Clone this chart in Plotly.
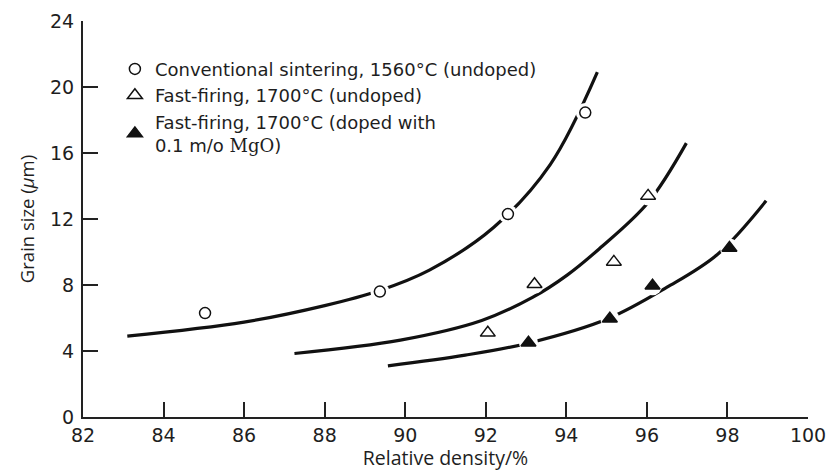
import plotly.graph_objects as go

# ---- data ----
conv_x = [85.03, 89.37, 92.55, 94.47]
conv_y = [6.3, 7.6, 12.3, 18.45]
fast_x = [92.05, 93.21, 95.18, 96.03]
fast_y = [5.1, 8.05, 9.4, 13.4]
dope_x = [93.06, 95.08, 96.14, 98.05]
dope_y = [4.5, 5.95, 7.95, 10.25]

curve1_x = [83.1, 86.0, 88.0, 89.35, 90.6, 92.2, 93.6, 94.77]
curve1_y = [4.9, 5.75, 6.75, 7.65, 8.9, 11.5, 15.3, 20.9]
curve2_x = [87.25, 89.88, 91.9, 93.16, 94.02, 94.82, 96.03, 96.98]
curve2_y = [3.85, 4.66, 5.85, 7.25, 8.6, 10.2, 13.0, 16.6]
curve3_x = [89.57, 91.49, 93.1, 95.03, 96.49, 97.75, 98.96]
curve3_y = [3.1, 3.75, 4.5, 5.95, 7.85, 9.85, 13.1]

x_ticks = [82, 84, 86, 88, 90, 92, 94, 96, 98, 100]
y_ticks = [0, 4, 8, 12, 16, 20, 24]

labels = [
    "Conventional sintering, 1560°C (undoped)",
    "Fast-firing, 1700°C (undoped)",
    "Fast-firing, 1700°C (doped with<br>0.1 m/o <span style=\"font-family:'DejaVu Serif'\">MgO</span>)",
]

INK = "#111111"
TXT = "#1e1e1e"
WIDE = "DejaVu Sans, Verdana, sans-serif"
HUM = "Open Sans, Noto Sans, sans-serif"

fig = go.Figure()

for cx, cy in [(curve1_x, curve1_y), (curve2_x, curve2_y), (curve3_x, curve3_y)]:
    fig.add_trace(go.Scatter(x=cx, y=cy, mode="lines",
                             line=dict(color=INK, width=3.2, shape="spline", smoothing=1.0),
                             showlegend=False, hoverinfo="skip"))

# white halos producing the gaps in the curves around the markers
for mx, my in [(conv_x, conv_y), (fast_x, fast_y), (dope_x, dope_y)]:
    fig.add_trace(go.Scatter(x=mx, y=my, mode="markers",
                             marker=dict(color="white", size=19, line=dict(width=0)),
                             showlegend=False, hoverinfo="skip"))

fig.add_trace(go.Scatter(x=conv_x, y=conv_y, mode="markers", name=labels[0],
                         marker=dict(symbol="circle", size=11, color="white",
                                     line=dict(color=INK, width=1.5))))
fig.add_trace(go.Scatter(x=fast_x, y=fast_y, mode="markers", name=labels[1],
                         marker=dict(symbol="triangle-up", size=13, color="white",
                                     line=dict(color=INK, width=1.5))))
fig.add_trace(go.Scatter(x=dope_x, y=dope_y, mode="markers", name=labels[2],
                         marker=dict(symbol="triangle-up", size=13, color=INK,
                                     line=dict(color=INK, width=1.5))))

axis_common = dict(showgrid=False, zeroline=False, showline=True, linecolor="#222222",
                   linewidth=2, ticks="inside", ticklen=15, tickwidth=2,
                   tickcolor="#222222", automargin=False,
                   tickfont=dict(size=19, family=WIDE, color=TXT))

fig.update_layout(
    width=828, height=471,
    margin=dict(l=83, r=20, t=21, b=54),
    paper_bgcolor="white", plot_bgcolor="white",
    font=dict(family=WIDE, color=TXT, size=18),
    legend=dict(x=0.044, y=0.925, xanchor="left", yanchor="top",
                bgcolor="rgba(0,0,0,0)", font=dict(size=18, family=WIDE, color=TXT),
                itemwidth=30, tracegroupgap=0),
    xaxis=dict(range=[82, 100], tickvals=x_ticks, ticktext=[str(v) for v in x_ticks],
               title=dict(text="Relative density/%", font=dict(size=19.5, family=HUM, color=TXT),
                          standoff=3),
               **axis_common),
    yaxis=dict(range=[0, 24], tickvals=y_ticks, ticktext=[str(v) for v in y_ticks],
               ticklabelstandoff=3,
               title=dict(text="Grain size (<i>μ</i>m)", font=dict(size=18.5, family=HUM, color=TXT),
                          standoff=11),
               **axis_common),
)

# remove the default page margin so the 828x471 figure fills the window exactly
fig.write_html("out.html", config={"displayModeBar": False},
               post_script="document.body.style.margin='0px';")
